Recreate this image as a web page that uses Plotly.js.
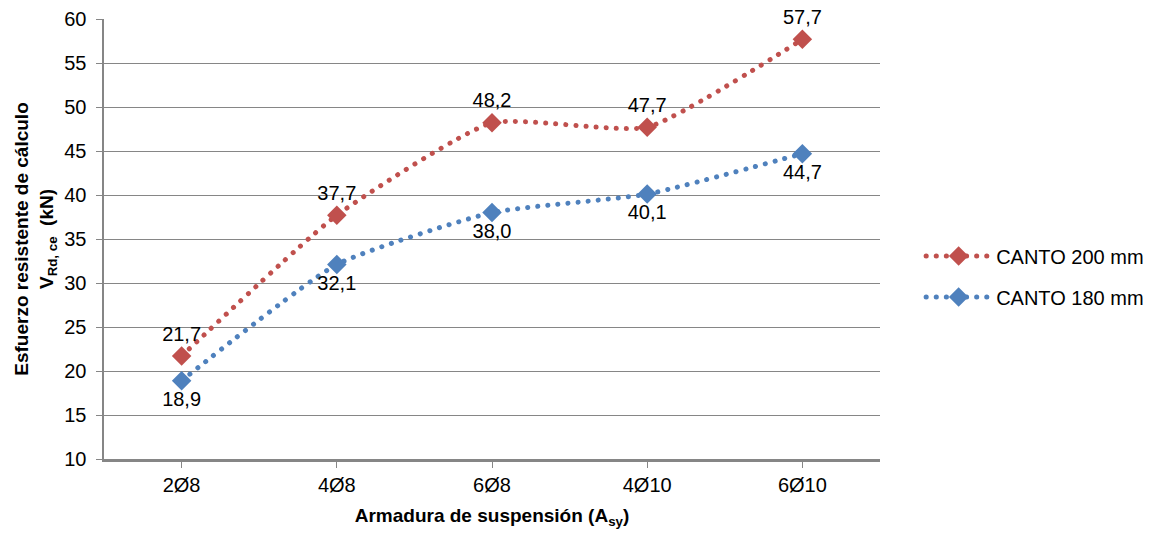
<!DOCTYPE html>
<html><head><meta charset="utf-8">
<script src="https://cdn.plot.ly/plotly-3.0.1.min.js"></script>
<style>
html,body{margin:0;padding:0;background:#fff}
#chart path.js-line{stroke-linecap:round !important}
</style>
</head><body><div id="chart" style="width:1168px;height:533px"></div>
<script>
const categories = ["2Ø8", "4Ø8", "6Ø8", "4Ø10", "6Ø10"];
const canto200 = [21.7, 37.7, 48.2, 47.7, 57.7];
const canto180 = [18.9, 32.1, 38.0, 40.1, 44.7];
const seriesNames = ["CANTO 200 mm", "CANTO 180 mm"];

const FS = 20;
const font = {family: "Liberation Sans, Arial, sans-serif", size: FS, color: "#000"};
const boldFont = {family: "Liberation Sans, Arial, sans-serif", size: 19, color: "#000", weight: "bold"};
const grey = "#868686";
const dotDash = "0.1px,10px";

const traces = [
  {x: categories, y: canto200, name: seriesNames[0], legendgroup: "a", type: "scatter", mode: "lines+markers+text",
   line: {color: "#C0504D", width: 5, dash: dotDash, shape: "spline", smoothing: 0.5},
   marker: {symbol: "diamond", size: 15, color: "#C0504D"},
   texttemplate: "%{y:.1f}", textposition: "top center", textfont: font, cliponaxis: false},
  {x: categories, y: canto180, name: seriesNames[1], legendgroup: "b", type: "scatter", mode: "lines+markers+text",
   line: {color: "#4F81BD", width: 5, dash: dotDash, shape: "spline", smoothing: 0.5},
   marker: {symbol: "diamond", size: 15, color: "#4F81BD"},
   texttemplate: "%{y:.1f}", textposition: "bottom center", textfont: font, cliponaxis: false}
];

const layout = {
  width: 1168, height: 533,
  margin: {l: 104, r: 288, t: 19, b: 74},
  separators: ",.",
  paper_bgcolor: "#fff", plot_bgcolor: "#fff",
  font: font,
  showlegend: true,
  legend: {x: 1.053, y: 0.415, xanchor: "left", yanchor: "middle", font: font, itemwidth: 65,
           traceorder: "grouped", tracegroupgap: 12},
  xaxis: {
    type: "category", showgrid: false, showline: true, linecolor: grey, linewidth: 2.5,
    ticks: "outside", ticklen: 6, tickcolor: grey, tickwidth: 1, tickfont: font,
    range: [-0.5, 4.5], fixedrange: true,
    title: {text: "Armadura de suspensión (A<sub>sy</sub>)", font: boldFont, standoff: 14}
  },
  yaxis: {
    range: [10, 60], dtick: 5, showgrid: true, gridcolor: grey, gridwidth: 1,
    showline: true, linecolor: grey, linewidth: 2.5, zeroline: false,
    ticks: "outside", ticklen: 6, tickcolor: grey, tickfont: font, ticklabelstandoff: 5,
    title: {text: "<b>Esfuerzo resistente de cálculo<br>V<sub>Rd, ce</sub>  (kN)</b>", font: boldFont, standoff: 6}
  }
};

Plotly.newPlot("chart", traces, layout, {displayModeBar: false, staticPlot: true});
</script></body></html>
